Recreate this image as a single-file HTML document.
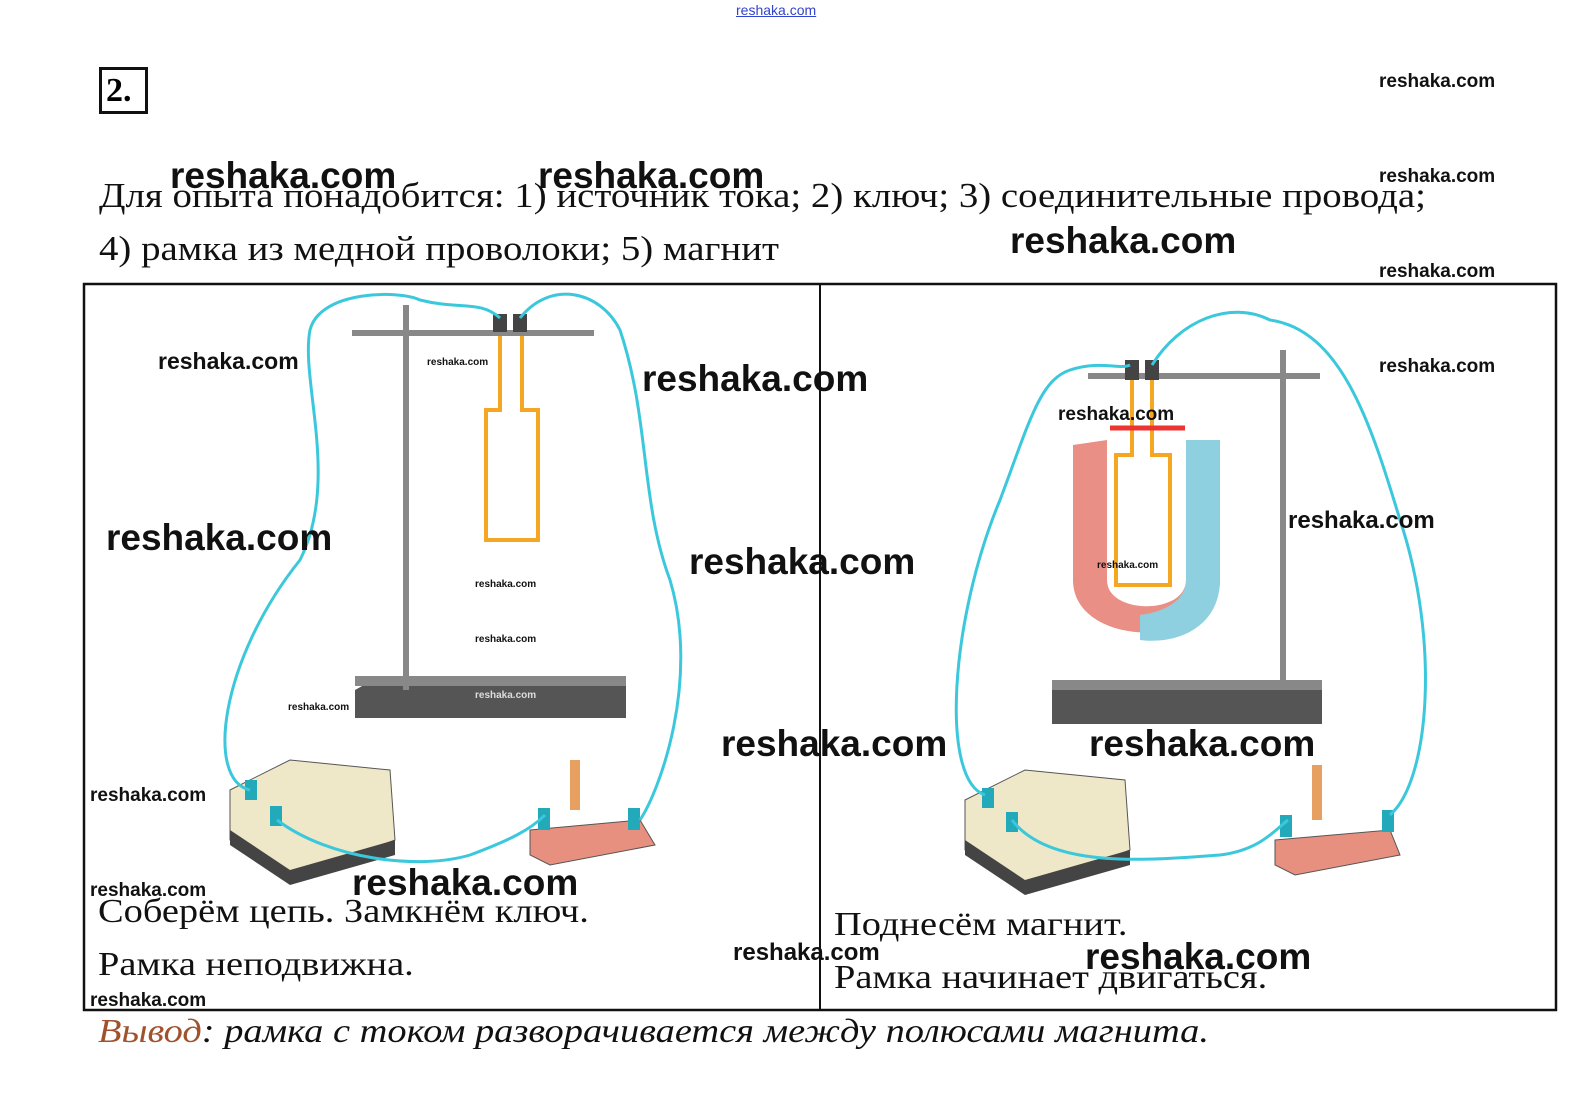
<!DOCTYPE html>
<html><head><meta charset="utf-8"><style>
body{margin:0;background:#fff;}
#c{position:relative;width:1582px;height:1115px;overflow:hidden;background:#fff;font-family:"Liberation Sans",sans-serif;}
.t{position:absolute;white-space:nowrap;}
.ser{font-family:"Liberation Serif",serif;color:#111;transform-origin:0 0;}
.wm{font-family:"Liberation Sans",sans-serif;font-weight:bold;color:#111;}
</style></head><body><div id="c">
<div class="t" style="left:736px;top:2px;font-size:14px;color:#3344cc;text-decoration:underline;">reshaka.com</div>
<div class="t" style="left:99px;top:67px;border:3px solid #111;font-family:'Liberation Serif',serif;font-weight:bold;font-size:34px;line-height:42px;padding-left:4px;box-sizing:border-box;width:49px;height:47px;">2.</div>

<div class="t ser" style="left:99px;top:176px;font-size:35px;transform:scaleX(1.11);">Для опыта понадобится: 1) источник тока; 2) ключ; 3) соединительные провода;</div>
<div class="t ser" style="left:99px;top:229px;font-size:35px;transform:scaleX(1.11);">4) рамка из медной проволоки; 5) магнит</div>

<svg style="position:absolute;left:0;top:0" width="1582" height="1115">
<rect x="84" y="284" width="1472" height="726" fill="none" stroke="#111" stroke-width="2.5"/>
<line x1="820" y1="284" x2="820" y2="1010" stroke="#111" stroke-width="2"/>
<polygon points="355,690 380,676 626,676 626,718 355,718" fill="#555"/>
<rect x="355" y="676" width="271" height="10" fill="#888"/>
<rect x="403" y="305" width="6" height="385" fill="#888"/>
<rect x="352" y="330" width="242" height="6" fill="#888"/>
<rect x="493" y="314" width="14" height="18" fill="#444"/><rect x="513" y="314" width="14" height="18" fill="#444"/>
<path d="M500,336 V410 H486 V540 H538 V410 H522 V336" fill="none" stroke="#f5a623" stroke-width="4"/>
<polygon points="230,790 290,760 390,770 395,840 290,880 230,840" fill="#eee8c8" stroke="#555"/>
<polygon points="230,830 290,870 395,840 395,855 290,885 230,845" fill="#444"/>
<rect x="245" y="780" width="12" height="20" fill="#2ab"/><rect x="270" y="806" width="12" height="20" fill="#2ab"/>
<polygon points="530,830 640,820 655,845 550,865 530,855" fill="#e89080" stroke="#555"/>
<rect x="570" y="760" width="10" height="50" fill="#e8a060"/>
<rect x="538" y="808" width="12" height="22" fill="#2ab"/><rect x="628" y="808" width="12" height="22" fill="#2ab"/>
<path d="M250,790 C205,780 220,660 300,560 C340,480 300,380 310,330 C320,290 400,290 420,300 C460,310 480,300 500,318" fill="none" stroke="#3cc8dc" stroke-width="3"/>
<path d="M520,318 C550,280 600,290 620,330 C650,420 640,500 670,580 C700,680 660,790 640,820" fill="none" stroke="#3cc8dc" stroke-width="3"/>
<path d="M277,820 C330,860 420,870 470,855 C510,840 530,830 545,815" fill="none" stroke="#3cc8dc" stroke-width="3"/>
<polygon points="1052,690 1080,680 1322,680 1322,724 1052,724" fill="#555"/>
<rect x="1052" y="680" width="270" height="10" fill="#888"/>
<rect x="1280" y="350" width="6" height="340" fill="#888"/>
<rect x="1088" y="373" width="232" height="6" fill="#888"/>
<rect x="1125" y="360" width="14" height="20" fill="#444"/><rect x="1145" y="360" width="14" height="20" fill="#444"/>
<path d="M1073,445 V580 C1073,650 1220,650 1220,580 V440 H1186 V580 C1186,615 1107,615 1107,580 V440 Z" fill="#e98f85"/>
<path d="M1186,440 H1220 V580 C1220,625 1180,645 1140,640 V615 C1165,612 1186,600 1186,580 Z" fill="#8fd0e0"/>
<path d="M1132,380 V455 H1116 V585 H1170 V455 H1152 V380" fill="none" stroke="#f5a623" stroke-width="4"/>
<path d="M1110,428 H1185" stroke="#e33" stroke-width="5"/>
<polygon points="965,800 1025,770 1125,780 1130,850 1025,890 965,850" fill="#eee8c8" stroke="#555"/>
<polygon points="965,840 1025,880 1130,850 1130,865 1025,895 965,855" fill="#444"/>
<rect x="982" y="788" width="12" height="20" fill="#2ab"/><rect x="1006" y="812" width="12" height="20" fill="#2ab"/>
<polygon points="1275,840 1390,830 1400,855 1295,875 1275,865" fill="#e89080" stroke="#555"/>
<rect x="1312" y="765" width="10" height="55" fill="#e8a060"/>
<rect x="1280" y="815" width="12" height="22" fill="#2ab"/><rect x="1382" y="810" width="12" height="22" fill="#2ab"/>
<path d="M985,795 C940,780 950,620 1000,500 C1030,420 1040,380 1070,370 C1100,360 1120,370 1130,365" fill="none" stroke="#3cc8dc" stroke-width="3"/>
<path d="M1152,365 C1180,320 1230,300 1270,320 C1340,330 1370,420 1400,520 C1440,640 1430,780 1390,815" fill="none" stroke="#3cc8dc" stroke-width="3"/>
<path d="M1012,820 C1050,870 1150,860 1220,855 C1260,850 1275,830 1288,820" fill="none" stroke="#3cc8dc" stroke-width="3"/>
</svg>

<div class="t ser" style="left:98px;top:893px;font-size:34px;transform:scaleX(1.13);">Соберём цепь. Замкнём ключ.</div>
<div class="t ser" style="left:98px;top:946px;font-size:34px;transform:scaleX(1.13);">Рамка неподвижна.</div>
<div class="t ser" style="left:834px;top:906px;font-size:34px;transform:scaleX(1.13);">Поднесём магнит.</div>
<div class="t ser" style="left:834px;top:959px;font-size:34px;transform:scaleX(1.13);">Рамка начинает двигаться.</div>
<div class="t ser" style="left:98px;top:1013px;font-size:34px;font-style:italic;transform:scaleX(1.13);"><span style="color:#a0522d">Вывод</span>: рамка с током разворачивается между полюсами магнита.</div>

<div class="t wm" style="left:1379px;top:71px;font-size:19px;">reshaka.com</div>
<div class="t wm" style="left:1379px;top:166px;font-size:19px;">reshaka.com</div>
<div class="t wm" style="left:1379px;top:261px;font-size:19px;">reshaka.com</div>
<div class="t wm" style="left:1379px;top:356px;font-size:19px;">reshaka.com</div>
<div class="t wm" style="left:170px;top:155px;font-size:37px;">reshaka.com</div>
<div class="t wm" style="left:538px;top:155px;font-size:37px;">reshaka.com</div>
<div class="t wm" style="left:1010px;top:220px;font-size:37px;">reshaka.com</div>
<div class="t wm" style="left:158px;top:348px;font-size:23px;">reshaka.com</div>
<div class="t wm" style="left:642px;top:358px;font-size:37px;">reshaka.com</div>
<div class="t wm" style="left:106px;top:517px;font-size:37px;">reshaka.com</div>
<div class="t wm" style="left:689px;top:541px;font-size:37px;">reshaka.com</div>
<div class="t wm" style="left:1058px;top:404px;font-size:19px;">reshaka.com</div>
<div class="t wm" style="left:1288px;top:507px;font-size:24px;">reshaka.com</div>
<div class="t wm" style="left:721px;top:723px;font-size:37px;">reshaka.com</div>
<div class="t wm" style="left:1089px;top:723px;font-size:37px;">reshaka.com</div>
<div class="t wm" style="left:90px;top:785px;font-size:19px;">reshaka.com</div>
<div class="t wm" style="left:352px;top:862px;font-size:37px;">reshaka.com</div>
<div class="t wm" style="left:90px;top:880px;font-size:19px;">reshaka.com</div>
<div class="t wm" style="left:733px;top:939px;font-size:24px;">reshaka.com</div>
<div class="t wm" style="left:1085px;top:936px;font-size:37px;">reshaka.com</div>
<div class="t wm" style="left:90px;top:990px;font-size:19px;">reshaka.com</div>
<div class="t wm" style="left:427px;top:357px;font-size:10px;">reshaka.com</div>
<div class="t wm" style="left:475px;top:579px;font-size:10px;">reshaka.com</div>
<div class="t wm" style="left:475px;top:634px;font-size:10px;">reshaka.com</div>
<div class="t wm" style="left:475px;top:690px;font-size:10px;color:#ddd;">reshaka.com</div>
<div class="t wm" style="left:288px;top:702px;font-size:10px;">reshaka.com</div>
<div class="t wm" style="left:1097px;top:560px;font-size:10px;">reshaka.com</div>
</div></body></html>
